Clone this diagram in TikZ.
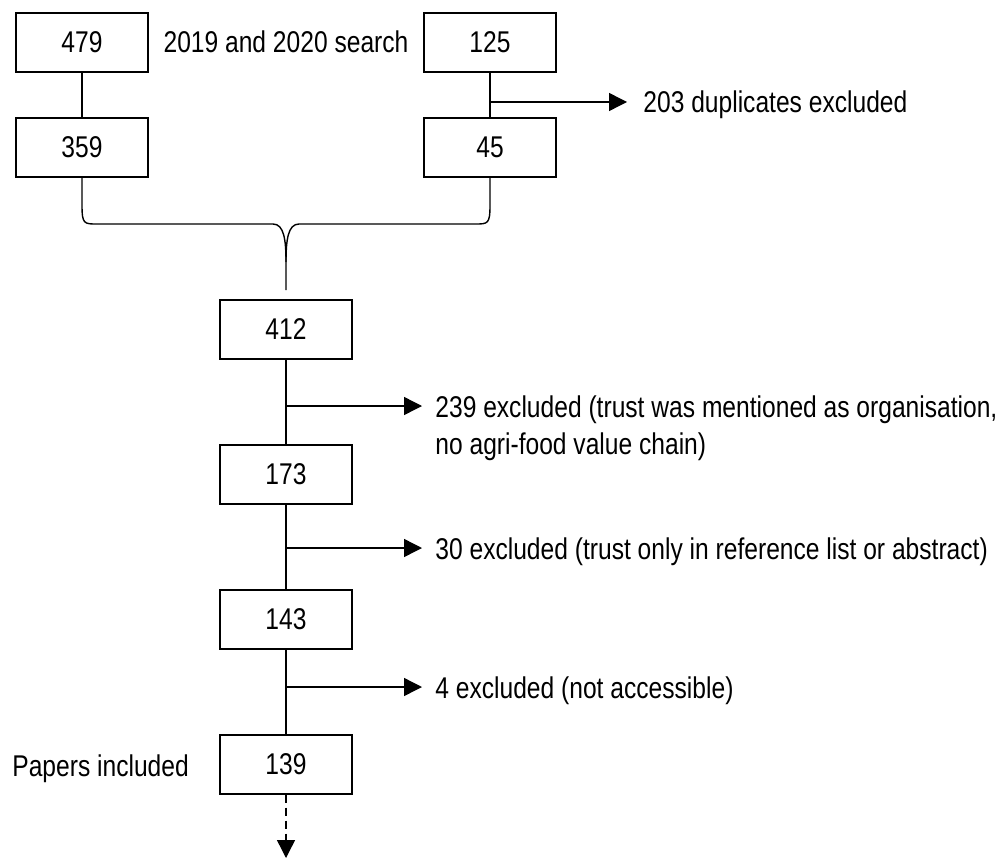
\documentclass[tikz,border=0pt]{standalone}
\usepackage{fontspec}
\setmainfont[FakeStretch=0.82]{Liberation Sans}
\usetikzlibrary{arrows.meta}
\begin{document}
\begin{tikzpicture}[x=0.5pt, y=-0.5pt,
  box/.style={rectangle, draw, line width=1pt, minimum width=66pt, minimum height=29.5pt, inner sep=0pt},
  lbl/.style={inner sep=0pt, anchor=base west, align=left},
  conn/.style={line width=0.7pt},
  arr/.style={line width=0.7pt, -{Triangle[length=9pt, width=9pt]}}]
\fontsize{15}{18.5}\selectfont
\useasboundingbox (0,0) rectangle (999,861);

\node [box] (n479) at (82,42.5) {479};
\node [box] (n125) at (490,42.5) {125};
\node [box] (n359) at (82,147.5) {359};
\node [box] (n45) at (490,147.5) {45};
\node [box] (n412) at (286,329) {412};
\node [box] (n173) at (286,474) {173};
\node [box] (n143) at (286,619) {143};
\node [box] (n139) at (286,764) {139};

\node [inner sep=0pt, anchor=base] (search) at (286,53) {2019 and 2020 search};
\node [lbl] (dup) at (643,113) {203 duplicates excluded};
\node [lbl] (ex239) at (435,454) {239 excluded (trust was mentioned as organisation,\\no agri-food value chain)};
\node [lbl] (ex30) at (435,559) {30 excluded (trust only in reference list or abstract)};
\node [lbl] (ex4) at (435,698) {4 excluded (not accessible)};
\node [lbl] (papers) at (12,776) {Papers included};

\coordinate (b0) at (490,102);
\coordinate (a0) at (627,102);
\coordinate (b1) at (286,406);
\coordinate (a1) at (422,406);
\coordinate (b2) at (286,548);
\coordinate (a2) at (422,548);
\coordinate (b3) at (286,687);
\coordinate (a3) at (422,687);
\coordinate (tip) at (286,290);
\coordinate (down) at (286,858);

\draw [conn] (n479) -- (n359);
\draw [conn] (n125) -- (n45);
\draw [conn] (n412) -- (n173);
\draw [conn] (n173) -- (n143);
\draw [conn] (n143) -- (n139);

\draw [arr] (b0) -- (a0);
\draw [arr] (b1) -- (a1);
\draw [arr] (b2) -- (a2);
\draw [arr] (b3) -- (a3);

\draw [conn] (n359.south) -- (82,205) .. controls (82,224) and (84,224) .. (97,224) -- (273,224) .. controls (284,224) and (286,240) .. (286,262) -- (tip);
\draw [conn] (n45.south) -- (490,205) .. controls (490,224) and (488,224) .. (475,224) -- (299,224) .. controls (288,224) and (286,240) .. (286,262);

\draw [arr, dash pattern=on 4pt off 2.5pt] (n139) -- (down);
\end{tikzpicture}
\end{document}
